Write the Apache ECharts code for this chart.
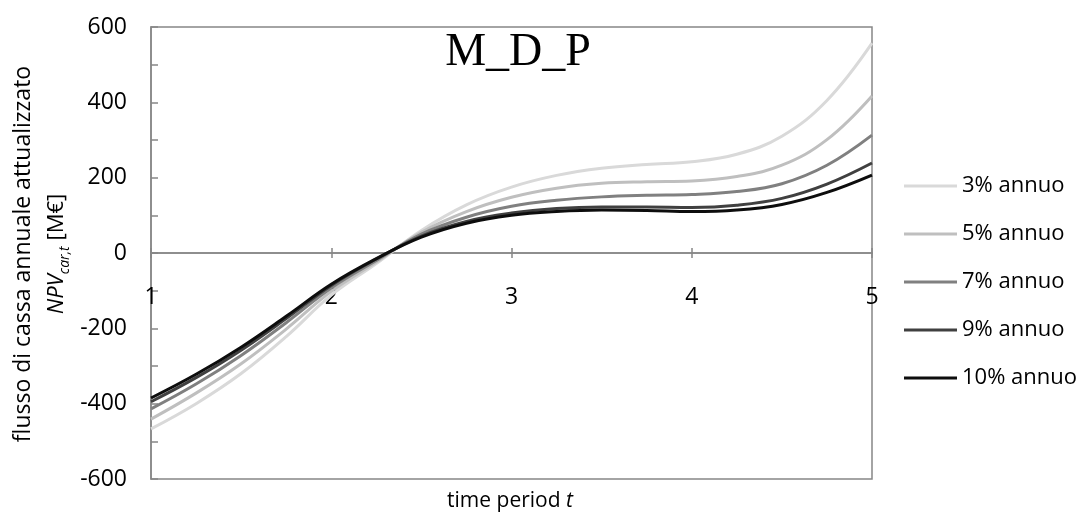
<!DOCTYPE html>
<html>
<head>
<meta charset="utf-8">
<script src="https://cdn.jsdelivr.net/npm/echarts@6/dist/echarts.min.js"></script>
<style>
  html, body { margin: 0; padding: 0; background: #fff; }
  #chart { width: 1078px; height: 512px; }
</style>
</head>
<body>
<div id="chart"></div>
<script>
// time periods (quarter steps) and discounted annual cash flow per discount rate [M€]
const periods = [1, 1.25, 1.5, 1.75, 2, 2.25, 2.5, 2.75, 3, 3.25, 3.5, 3.75, 4, 4.25, 4.5, 4.75, 5];
const seriesNames = ['3% annuo', '5% annuo', '7% annuo', '9% annuo', '10% annuo'];
const rate3  = [-467, -400, -320, -222, -112, -28, 60, 128, 175, 206, 225, 235, 242, 262, 310, 405, 557];
const rate5  = [-441, -372, -294, -202, -102, -24, 55, 110, 148, 172, 185, 189, 191, 203, 233, 301, 417];
const rate7  = [-414, -348, -272, -185, -93, -20, 50, 95, 124, 140, 149, 153, 155, 163, 184, 233, 313];
const rate9  = [-395, -331, -258, -174, -86, -16, 45, 84, 106, 118, 122, 122, 121, 127, 145, 183, 239];
const rate10 = [-385, -322, -250, -168, -83, -15, 42, 79, 100, 110, 114, 113, 110, 114, 129, 161, 207];
const xTickLabels = ['1', '2', '3', '4', '5'];
const yTicks = [-600, -400, -200, 0, 200, 400, 600];

const values = [rate3, rate5, rate7, rate9, rate10];
const colors = ['#d9d9d9', '#bfbfbf', '#808080', '#404040', '#0d0d0d'];
const FONT = 'Open Sans';
const AXIS_GREY = '#878787';

const chart = echarts.init(document.getElementById('chart'), null, { renderer: 'canvas' });

const series = values.map((vals, i) => ({
  name: seriesNames[i],
  type: 'line',
  smooth: 0.4,
  showSymbol: false,
  symbol: 'none',
  xAxisIndex: 0,
  yAxisIndex: 0,
  data: periods.map((t, k) => [t, vals[k]]),
  lineStyle: { color: colors[i], width: 3 },
  itemStyle: { color: colors[i] },
  z: 3 + i
}));

const gridBox = { left: 151, right: 206, top: 27, bottom: 33 };
const yMin = yTicks[0], yMax = yTicks[yTicks.length - 1];
// the category axis sits on the value 0 of the y axis
const plotHeight = 512 - gridBox.top - gridBox.bottom;
const zeroOffset = -plotHeight * (0 - yMin) / (yMax - yMin);

chart.setOption({
  animation: false,
  backgroundColor: '#ffffff',
  textStyle: { fontFamily: FONT },
  title: {
    text: 'M_D_P',
    left: 513,
    top: 25,
    textAlign: 'center',
    textStyle: { fontFamily: 'Liberation Serif', fontSize: 46, fontWeight: 'normal', color: '#000' }
  },
  grid: [
    Object.assign({ show: true, borderColor: AXIS_GREY, borderWidth: 1.5, backgroundColor: 'transparent',
      containLabel: false, outerBoundsMode: 'none' }, gridBox),
    // second grid on the same box: carries the upward half of the x ticks
    Object.assign({ show: false, containLabel: false, outerBoundsMode: 'none' }, gridBox)
  ],
  legend: {
    orient: 'vertical',
    left: 899,
    top: 168,
    icon: 'rect',
    itemWidth: 53,
    itemHeight: 3,
    itemGap: 22,
    data: seriesNames,
    textStyle: { fontFamily: FONT, fontSize: 22, lineHeight: 26, color: '#000' }
  },
  xAxis: [
    {
      gridIndex: 0,
      type: 'value',
      min: 1, max: 5, interval: 1,
      offset: zeroOffset,
      axisLine: { onZero: false, lineStyle: { color: AXIS_GREY, width: 1.5 } },
      axisTick: { show: true, inside: false, length: 5, lineStyle: { color: AXIS_GREY, width: 1.5 } },
      axisLabel: {
        margin: 33, fontFamily: FONT, fontSize: 23, color: '#000',
        formatter: v => xTickLabels[Math.round(v) - 1] || ''
      },
      splitLine: { show: false }
    },
    {
      gridIndex: 1,
      type: 'value',
      min: 1, max: 5, interval: 1,
      offset: zeroOffset,
      axisLine: { onZero: false, lineStyle: { color: AXIS_GREY, width: 1.5 } },
      axisTick: { show: true, inside: true, length: 5, lineStyle: { color: AXIS_GREY, width: 1.5 } },
      axisLabel: { show: false },
      splitLine: { show: false }
    }
  ],
  yAxis: [
    {
      gridIndex: 0,
      type: 'value',
      min: yMin, max: yMax, interval: 200,
      axisLine: { show: true, onZero: false, lineStyle: { color: AXIS_GREY, width: 1.5 } },
      axisTick: { show: true, inside: true, length: 7, lineStyle: { color: AXIS_GREY, width: 1.5 } },
      minorTick: { show: true, splitNumber: 2, length: 7, lineStyle: { color: AXIS_GREY, width: 1.5 } },
      axisLabel: { margin: 24, fontFamily: FONT, fontSize: 23, color: '#000' },
      splitLine: { show: false }
    },
    {
      gridIndex: 1,
      type: 'value',
      min: yMin, max: yMax, interval: 200,
      show: false
    }
  ],
  graphic: [
    {
      type: 'text',
      x: 23, y: 254,
      rotation: Math.PI / 2,
      style: {
        text: 'flusso di cassa annuale attualizzato',
        fontFamily: FONT, fontSize: 23, fill: '#000',
        align: 'center', verticalAlign: 'middle'
      }
    },
    {
      type: 'text',
      x: 57, y: 254,
      rotation: Math.PI / 2,
      style: {
        text: '{i|NPV}{s|car,t}{n| [M€]}',
        align: 'center', verticalAlign: 'middle',
        rich: {
          i: { fontFamily: FONT, fontSize: 22, fontStyle: 'italic', fill: '#000', verticalAlign: 'bottom' },
          s: { fontFamily: FONT, fontSize: 14, fontStyle: 'italic', fill: '#000', verticalAlign: 'bottom', padding: [0, 0, -4, 0] },
          n: { fontFamily: FONT, fontSize: 22, fill: '#000', verticalAlign: 'bottom' }
        }
      }
    },
    {
      type: 'text',
      x: 510, y: 501,
      style: {
        text: 'time period {i|t}',
        fontFamily: FONT, fontSize: 21, fill: '#000',
        align: 'center', verticalAlign: 'middle',
        rich: { i: { fontFamily: FONT, fontSize: 21, fontStyle: 'italic', fill: '#000' } }
      }
    }
  ],
  series: series
});
</script>
</body>
</html>
